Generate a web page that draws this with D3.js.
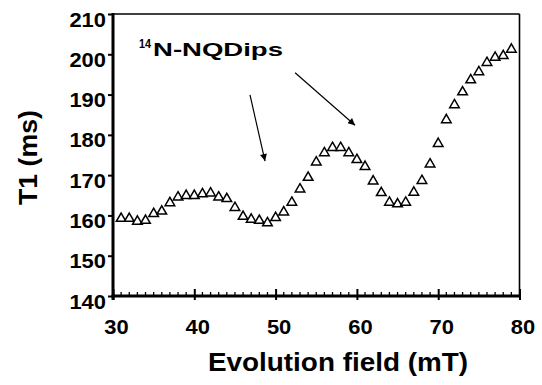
<!DOCTYPE html>
<html><head><meta charset="utf-8">
<script src="https://cdn.jsdelivr.net/npm/d3@7"></script>
<style>
body{margin:0;background:#fff;}
text{font-family:"Liberation Sans",Arial,Helvetica,sans-serif;font-weight:bold;fill:#000;}
</style></head>
<body><svg id="chart" width="542" height="385"></svg>
<script>
const fieldMT = [31,32,33,34,35,36,37,38,39,40,41,42,43,44,45,46,47,48,49,50,51,52,53,54,55,56,57,58,59,60,61,62,63,64,65,66,67,68,69,70,71,72,73,74,75,76,77,78,79];
const t1ms = [159.4,159.4,158.7,158.9,160.6,161.2,163.3,164.7,165.1,165.1,165.5,165.7,164.7,164.3,162.1,159.9,159.2,158.9,158.3,159.6,161.0,163.4,166.7,169.6,173.4,175.7,177.0,177.0,175.7,174.0,172.3,168.7,165.8,163.4,163.0,163.4,165.9,168.8,172.9,178.0,183.9,187.6,190.8,193.8,195.8,198.1,199.4,199.8,201.4];
const xTicks = [30,40,50,60,70,80];
const yTicks = [140,150,160,170,180,190,200,210];
const annotationLabel = {sup:"14", main:"N-NQDips"};
const arrows = [ {from:[46.85,189.9], to:[48.7,173.5]}, {from:[52.4,195.4], to:[59.77,182.4]} ];

const svg = d3.select("#chart");
const x = d3.scaleLinear().domain([30,80]).range([113,519.5]);
const y = d3.scaleLinear().domain([140,210]).range([296,14]);
const digitW = 12.2;

// frame top/right
svg.append("line").attr("x1",x(30)).attr("x2",x(80)).attr("y1",y(210)).attr("y2",y(210)).attr("stroke","#000").attr("stroke-width",1.6);
svg.append("line").attr("x1",x(80)).attr("x2",x(80)).attr("y1",y(210)).attr("y2",y(140)).attr("stroke","#000").attr("stroke-width",1.6);

// minor x ticks
const minor = d3.range(31,80).filter(v=>v%10!==0);
svg.append("g").selectAll("line").data(minor).join("line")
  .attr("x1",d=>x(d)).attr("x2",d=>x(d)).attr("y1",y(140)).attr("y2",y(140)-4)
  .attr("stroke","#000").attr("stroke-width",1.3);

// x axis
const xg = svg.append("g").attr("transform",`translate(0,${y(140)})`)
  .call(d3.axisBottom(x).tickValues(xTicks).tickSize(4).tickFormat(d3.format("d")));
xg.selectAll(".tick line").attr("stroke-width",2).attr("y1",-7);
xg.selectAll(".tick text").attr("font-size",20).attr("dy",0).attr("y",38).attr("dx",3)
  .attr("textLength",d=>String(d).length*digitW).attr("lengthAdjust","spacingAndGlyphs");

// y axis
const yg = svg.append("g").attr("transform",`translate(${x(30)},0)`)
  .call(d3.axisLeft(y).tickValues(yTicks).tickSize(5).tickFormat(d3.format("d")));
yg.selectAll(".tick line").attr("stroke-width",2);
yg.selectAll(".tick text").attr("font-size",20).attr("dy",0).attr("y",12).attr("x",-7)
  .attr("textLength",d=>String(d).length*digitW).attr("lengthAdjust","spacingAndGlyphs");

yg.select(".domain").attr("stroke-width",3).attr("d",`M0,${y(140)+4}V${y(210)-1}`);
xg.select(".domain").attr("stroke-width",3).attr("d",`M${x(30)-1.5},0H${x(80)}`);

// data triangles
const tri = "M0,-4.8L4.8,3.5L-4.8,3.5Z";
svg.append("g").selectAll("path").data(fieldMT).join("path")
  .attr("d",tri).attr("transform",(d,i)=>`translate(${x(d)},${y(t1ms[i])})`)
  .attr("fill","#fff").attr("stroke","#000").attr("stroke-width",1.5);

// annotation
svg.append("text").attr("x",139).attr("y",48).attr("font-size",12)
  .attr("textLength",12).attr("lengthAdjust","spacingAndGlyphs").text(annotationLabel.sup);
svg.append("text").attr("x",153).attr("y",56).attr("font-size",18)
  .attr("textLength",130).attr("lengthAdjust","spacingAndGlyphs").text(annotationLabel.main);

// arrows
const defs = svg.append("defs");
defs.append("marker").attr("id","ah").attr("viewBox","0 0 10 10").attr("refX",10).attr("refY",5)
  .attr("markerWidth",10).attr("markerHeight",7).attr("markerUnits","userSpaceOnUse").attr("orient","auto")
  .append("path").attr("d","M0,0L10,5L0,10Z").attr("fill","#000");
svg.append("g").selectAll("line").data(arrows).join("line")
  .attr("x1",d=>x(d.from[0])).attr("y1",d=>y(d.from[1])).attr("x2",d=>x(d.to[0])).attr("y2",d=>y(d.to[1]))
  .attr("stroke","#000").attr("stroke-width",1.2).attr("marker-end","url(#ah)");

// axis titles
svg.append("text").attr("x",338).attr("y",371).attr("text-anchor","middle").attr("font-size",25)
  .attr("textLength",260).attr("lengthAdjust","spacingAndGlyphs").text("Evolution field (mT)");
svg.append("text").attr("transform","translate(37,157.5) rotate(-90)").attr("text-anchor","middle").attr("font-size",25)
  .attr("textLength",95).attr("lengthAdjust","spacingAndGlyphs").text("T1 (ms)");
</script></body></html>
